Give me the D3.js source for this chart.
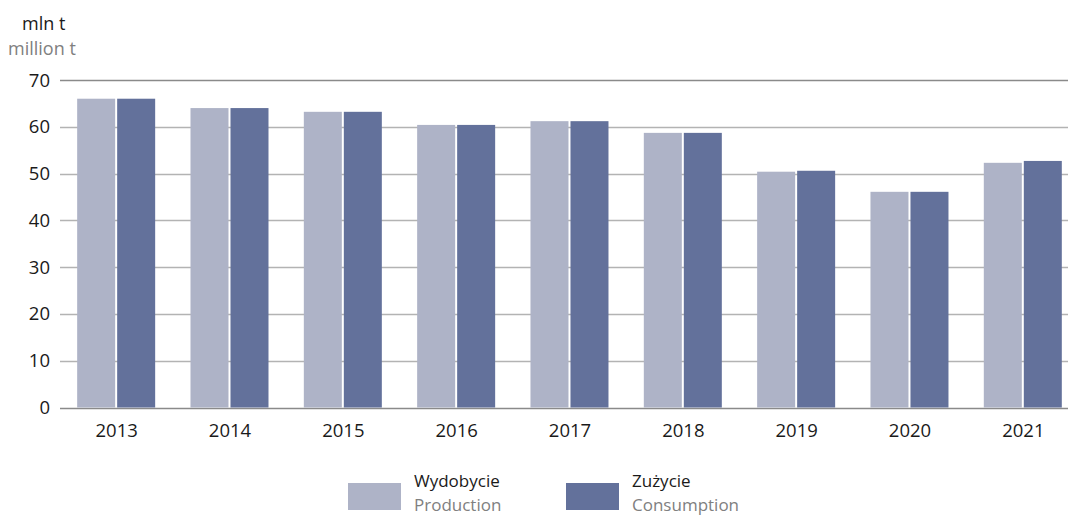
<!DOCTYPE html>
<html>
<head>
<meta charset="utf-8">
<script src="https://cdn.jsdelivr.net/npm/d3@7"></script>
<style>
  body { margin: 0; background: #fff; }
  svg text { font-family: "Open Sans", sans-serif; }
</style>
</head>
<body>
<div id="chart"></div>
<script>
// Coal: production vs consumption, mln t

const years = ['2013', '2014', '2015', '2016', '2017', '2018', '2019', '2020', '2021']
const production = [66.0, 64.0, 63.2, 60.4, 61.2, 58.7, 50.4, 46.1, 52.3]
const consumption = [66.0, 64.0, 63.2, 60.4, 61.2, 58.7, 50.6, 46.1, 52.7]
const yTicks = [0, 10, 20, 30, 40, 50, 60, 70]

const colors = { production: '#aeb3c7', consumption: '#63719b' }

let width = 1068
let height = 515
let margin = { left: 60, top: 80, bottom: 107 }

let svg = d3.select('#chart')
  .append('svg')
    .attr('width', width)
    .attr('height', height)

let x = d3.scaleBand()
  .domain(years)
  .range([margin.left, margin.left + 113.33 * years.length])

let y = d3.scaleLinear()
  .domain([0, 70])
  .range([height - margin.bottom - 0.5, margin.top])

// gridlines
svg.selectAll('line.grid')
  .data(yTicks)
  .enter()
  .append('line')
    .attr('class', 'grid')
    .attr('x1', margin.left)
    .attr('x2', width)
    .attr('y1', (d) => Math.round(y(d)) + 0.5)
    .attr('y2', (d) => Math.round(y(d)) + 0.5)
    .attr('stroke', (d) => (d === 0 || d === 70) ? '#8a8a8a' : '#b3b3b3')
    .attr('stroke-width', 1.3)

// y tick labels
svg.selectAll('text.ytick')
  .data(yTicks)
  .enter()
  .append('text')
    .attr('class', 'ytick')
    .attr('x', 50)
    .attr('y', (d) => y(d) + 6.5)
    .attr('text-anchor', 'end')
    .attr('font-size', 18.5)
    .attr('fill', '#1a1a1a')
    .text((d) => d)

// bars
let groups = svg.selectAll('g.year')
  .data(years)
  .enter()
  .append('g')
    .attr('class', 'year')
    .attr('transform', (d) => `translate(${x(d) + x.bandwidth() / 2},0)`)

groups.append('rect')
  .attr('x', -39.5)
  .attr('width', 38)
  .attr('y', (d, i) => y(production[i]))
  .attr('height', (d, i) => y(0) - y(production[i]))
  .attr('fill', colors.production)

groups.append('rect')
  .attr('x', 0.5)
  .attr('width', 38)
  .attr('y', (d, i) => y(consumption[i]))
  .attr('height', (d, i) => y(0) - y(consumption[i]))
  .attr('fill', colors.consumption)

// x labels
groups.append('text')
  .attr('y', 437)
  .attr('text-anchor', 'middle')
  .attr('font-size', 18.5)
  .attr('fill', '#1a1a1a')
  .text((d) => d)

// unit
svg.append('text')
  .attr('x', 22)
  .attr('y', 29.5)
  .attr('font-size', 18)
  .attr('fill', '#1a1a1a')
  .text('mln t')

svg.append('text')
  .attr('x', 8)
  .attr('y', 55)
  .attr('font-size', 18)
  .attr('fill', '#808080')
  .text('million t')

// legend
let legend = [
  { pl: 'Wydobycie', en: 'Production', color: colors.production, x: 348 },
  { pl: 'Zużycie', en: 'Consumption', color: colors.consumption, x: 566 },
]

let leg = svg.selectAll('g.legend')
  .data(legend)
  .enter()
  .append('g')
    .attr('class', 'legend')
    .attr('transform', (d) => `translate(${d.x},0)`)

leg.append('rect')
  .attr('y', 483)
  .attr('width', 53)
  .attr('height', 27)
  .attr('fill', (d) => d.color)

leg.append('text')
  .attr('x', 66)
  .attr('y', 487)
  .attr('font-size', 17)
  .attr('fill', '#1a1a1a')
  .text((d) => d.pl)

leg.append('text')
  .attr('x', 66)
  .attr('y', 510.5)
  .attr('font-size', 17)
  .attr('fill', '#808080')
  .text((d) => d.en)
</script>
</body>
</html>
